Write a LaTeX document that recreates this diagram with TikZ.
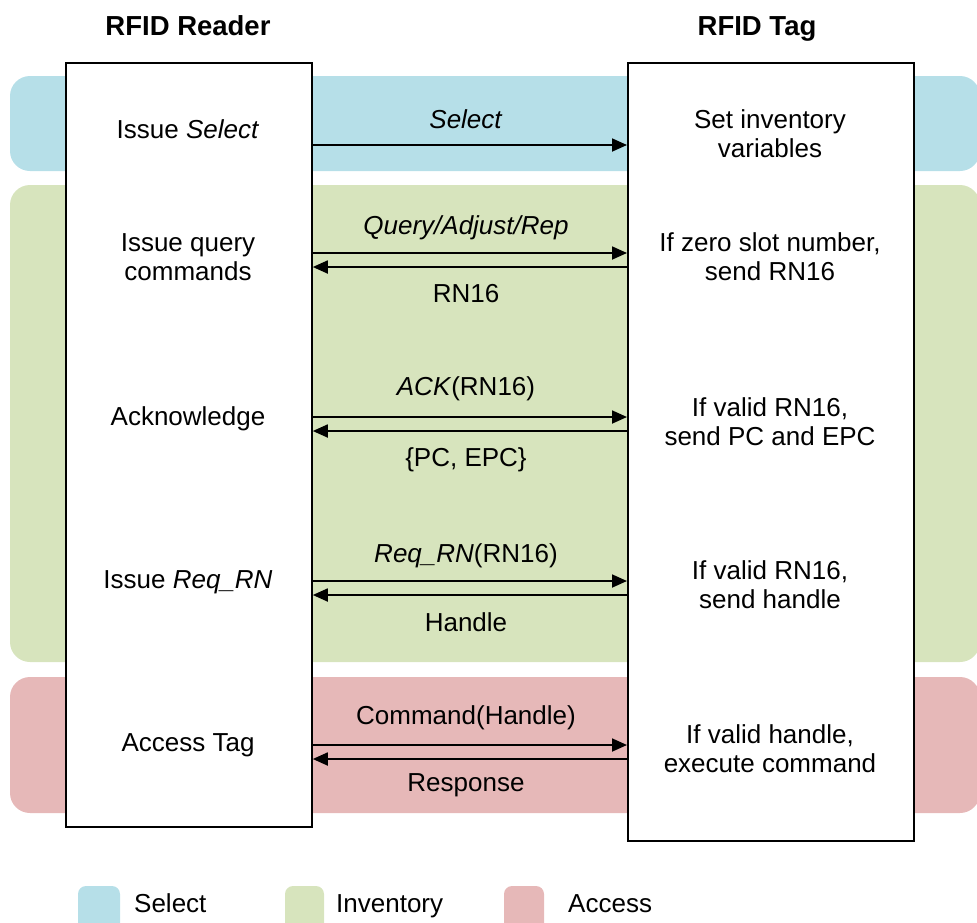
\documentclass[tikz,border=0pt]{standalone}
\usepackage{fontspec}
\setmainfont{Liberation Sans}
\usetikzlibrary{arrows.meta}
\definecolor{selband}{HTML}{B6DFE8}
\definecolor{invband}{HTML}{D7E4BD}
\definecolor{accband}{HTML}{E6B8B8}
\tikzset{
  band/.style={rounded corners=20pt, draw=none},
  lifebox/.style={draw=black, line width=1.8pt, fill=white},
  msg/.style={line width=1.8pt, -{Triangle[length=15pt,width=13pt]}},
  txt/.style={align=center, font=\fontsize{26}{29}\selectfont, inner sep=0pt},
  head/.style={font=\fontsize{27.5}{30}\selectfont\bfseries, inner sep=0pt, anchor=base},
  swatch/.style={rounded corners=8pt, draw=none}
}
\begin{document}
\begin{tikzpicture}[x=1pt,y=-1pt]
\useasboundingbox (0,0) rectangle (977,922);
% phase bands
\fill[band, selband] (10,76) rectangle (980,171);
\fill[band, invband] (10,185) rectangle (980,662);
\fill[band, accband] (10,677) rectangle (980,813);
% lifeline boxes
\node[lifebox, minimum width=246pt, minimum height=764pt, anchor=north west, inner sep=0pt] (reader) at (65,62) {};
\node[lifebox, minimum width=286pt, minimum height=778pt, anchor=north west, inner sep=0pt] (tag) at (627,62) {};
% headers
\node[head] (hreader) at (188,35) {RFID Reader};
\node[head] (htag) at (757,35) {RFID Tag};
% reader actions
\node[txt] (r1) at (188,129) {Issue \textit{Select}};
\node[txt] (r2) at (188,257) {Issue query\\commands};
\node[txt] (r3) at (188,419) {Acknowledge};
\node[txt] (r4) at (188,582) {Issue \textit{Req\_RN}};
\node[txt] (r5) at (188,745) {Access Tag};
% tag actions
\node[txt] (t1) at (770,134) {Set inventory\\variables};
\node[txt] (t2) at (770,257) {If zero slot number,\\send RN16};
\node[txt] (t3) at (770,422) {If valid RN16,\\send PC and EPC};
\node[txt] (t4) at (770,585) {If valid RN16,\\send handle};
\node[txt] (t5) at (770,749) {If valid handle,\\execute command};
% message rows
\foreach \n/\y in {a/145,b/253,c/267,d/417,e/431,f/581,g/595,h/745,i/759}{
  \coordinate (L\n) at (reader.east |- 0,\y);
  \coordinate (R\n) at (tag.west |- 0,\y);
}
\draw[msg] (La) -- (Ra);
\draw[msg] (Lb) -- (Rb);
\draw[msg] (Rc) -- (Lc);
\draw[msg] (Ld) -- (Rd);
\draw[msg] (Re) -- (Le);
\draw[msg] (Lf) -- (Rf);
\draw[msg] (Rg) -- (Lg);
\draw[msg] (Lh) -- (Rh);
\draw[msg] (Ri) -- (Li);
% message labels
\node[txt] (m1) at (466,119) {\textit{Select}};
\node[txt] (m2) at (466,228) {\textit{Query/Adjust/Rep}};
\node[txt] (m3) at (466,294) {RN16};
\node[txt] (m4) at (466,389) {\textit{ACK}(RN16)};
\node[txt] (m5) at (466,460) {\{PC, EPC\}};
\node[txt] (m6) at (466,556) {\textit{Req\_RN}(RN16)};
\node[txt] (m7) at (466,622) {Handle};
\node[txt] (m8) at (466,718) {Command(Handle)};
\node[txt] (m9) at (466,785) {Response};
% legend
\fill[swatch, selband] (78,886) rectangle (120,935);
\fill[swatch, invband] (285,886) rectangle (324,935);
\fill[swatch, accband] (504,886) rectangle (544,935);
\node[txt, anchor=base west] (k1) at (134,912) {Select};
\node[txt, anchor=base west] (k2) at (336,912) {Inventory};
\node[txt, anchor=base west] (k3) at (568,912) {Access};
\end{tikzpicture}
\end{document}
